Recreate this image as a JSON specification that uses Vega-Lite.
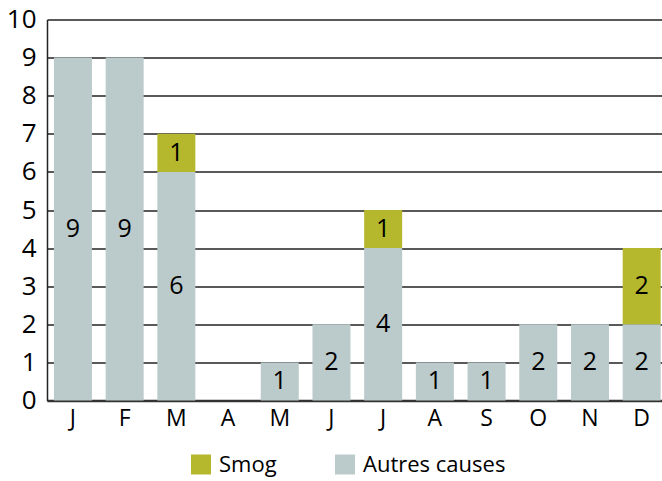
{
  "$schema": "https://vega.github.io/schema/vega-lite/v6.json",
  "width": 615,
  "height": 381,
  "autosize": {"type": "none"},
  "padding": {"left": 47, "top": 19.5, "right": 0, "bottom": 80.5},
  "config": {
    "font": "Open Sans",
    "view": {"stroke": null},
    "axis": {"labelColor": "#000", "titleColor": "#000"},
    "axisY": {
      "values": [0, 1, 2, 3, 4, 5, 6, 7, 8, 9, 10],
      "tickCount": 10,
      "labelOverlap": false,
      "labelFontSize": 26,
      "labelPadding": 11,
      "ticks": false,
      "grid": true,
      "gridColor": "#222",
      "gridWidth": 1.3,
      "domainColor": "#222",
      "domainWidth": 1.5
    }
  },
  "data": {
    "values": [
      {"m": 0, "cause": "Autres causes", "n": 9},
      {"m": 1, "cause": "Autres causes", "n": 9},
      {"m": 2, "cause": "Autres causes", "n": 6},
      {"m": 3, "cause": "Autres causes", "n": 0},
      {"m": 4, "cause": "Autres causes", "n": 1},
      {"m": 5, "cause": "Autres causes", "n": 2},
      {"m": 6, "cause": "Autres causes", "n": 4},
      {"m": 7, "cause": "Autres causes", "n": 1},
      {"m": 8, "cause": "Autres causes", "n": 1},
      {"m": 9, "cause": "Autres causes", "n": 2},
      {"m": 10, "cause": "Autres causes", "n": 2},
      {"m": 11, "cause": "Autres causes", "n": 2},
      {"m": 0, "cause": "Smog", "n": 0},
      {"m": 1, "cause": "Smog", "n": 0},
      {"m": 2, "cause": "Smog", "n": 1},
      {"m": 3, "cause": "Smog", "n": 0},
      {"m": 4, "cause": "Smog", "n": 0},
      {"m": 5, "cause": "Smog", "n": 0},
      {"m": 6, "cause": "Smog", "n": 1},
      {"m": 7, "cause": "Smog", "n": 0},
      {"m": 8, "cause": "Smog", "n": 0},
      {"m": 9, "cause": "Smog", "n": 0},
      {"m": 10, "cause": "Smog", "n": 0},
      {"m": 11, "cause": "Smog", "n": 2}
    ]
  },
  "transform": [
    {"stack": "n", "groupby": ["m"], "sort": [{"field": "cause", "order": "ascending"}], "as": ["y0", "y1"]},
    {"calculate": "(datum.y0 + datum.y1) / 2", "as": "ymid"}
  ],
  "encoding": {
    "x": {
      "field": "m",
      "type": "ordinal",
      "title": null,
      "scale": {"paddingInner": 0.265, "paddingOuter": 0.08, "align": 0.84},
      "axis": {
        "labelExpr": "['J','F','M','A','M','J','J','A','S','O','N','D'][datum.value]",
        "labelAngle": 0,
        "labelFontSize": 23,
        "labelPadding": 7,
        "ticks": false,
        "domainColor": "#333",
        "domainWidth": 2.5,
        "grid": false
      }
    }
  },
  "layer": [
    {
      "mark": {"type": "bar"},
      "encoding": {
        "y": {
          "field": "y1",
          "type": "quantitative",
          "title": null,
          "scale": {"domain": [0, 10], "nice": false},
          "axis": {"zindex": 0}
        },
        "y2": {"field": "y0"},
        "color": {
          "field": "cause",
          "type": "nominal",
          "scale": {"domain": ["Smog", "Autres causes"], "range": ["#b5b82c", "#bbcaca"]},
          "legend": {
            "title": null,
            "orient": "none",
            "legendX": 143,
            "legendY": 434,
            "direction": "horizontal",
            "symbolType": "square",
            "symbolSize": 400,
            "symbolStrokeWidth": 0,
            "labelFontSize": 22,
            "labelColor": "#000",
            "labelOffset": 7,
            "columnPadding": 57,
            "padding": 0
          }
        }
      }
    },
    {
      "transform": [{"filter": "datum.n > 0"}],
      "mark": {"type": "text", "fontSize": 25, "color": "#000", "baseline": "middle", "align": "center"},
      "encoding": {
        "y": {"field": "ymid", "type": "quantitative", "title": null, "axis": {"zindex": 0}},
        "text": {"field": "n", "type": "quantitative"}
      }
    }
  ]
}
